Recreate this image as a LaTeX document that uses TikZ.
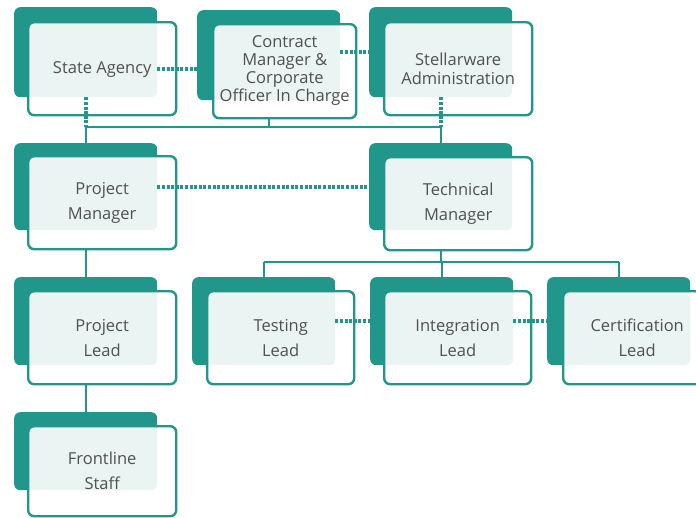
\documentclass[tikz,border=0pt]{standalone}
\usepackage{fontspec}
\setmainfont{Open Sans}
\definecolor{teal1}{HTML}{21968A}
\definecolor{txt}{HTML}{505050}
\tikzset{
  x=1pt, y=-1pt,
  backbox/.style={draw=none, fill=teal1, rounded corners=6pt, anchor=north west,
    minimum width=143pt, minimum height=90pt, inner sep=0pt},
  frontbox/.style={draw=teal1, line width=2.4pt, fill=white, fill opacity=0.9,
    rounded corners=6pt, anchor=north west, minimum width=148pt, minimum height=93pt, inner sep=0pt},
  label/.style={text=txt, align=center, inner sep=0pt, font=\fontsize{16.5}{25}\selectfont},
  link/.style={draw=teal1, line width=2.3pt},
  dotlink/.style={draw=teal1, line width=3.6pt, dash pattern=on 3pt off 1.6pt},
}
\begin{document}
\begin{tikzpicture}
\useasboundingbox (0,0) rectangle (696,517);
\clip (0,0) rectangle (696,517);

% top row
\node[backbox] (sa-b) at (14,7) {};
\node[frontbox] (sa) at (27,21) {};
\node[label] (sa-t) at ([yshift=-1pt]sa.center) {State Agency};

\node[backbox] (cm-b) at (197,10) {};
\node[frontbox, minimum width=143pt, minimum height=94pt] (cm) at (212,23) {};
\node[label, font=\fontsize{16.5}{18}\selectfont] (cm-t) at ([yshift=1pt]cm.center) {Contract\\Manager \&\\Corporate\\Officer In Charge};

\node[backbox] (sw-b) at (369,7) {};
\node[frontbox] (sw) at (383,21) {};
\node[label, font=\fontsize{16.5}{19}\selectfont] (sw-t) at (sw.center) {Stellarware\\Administration};

% second row
\node[backbox, minimum height=87pt] (pm-b) at (14,143) {};
\node[frontbox] (pm) at (27,155) {};
\node[label] (pm-t) at (pm.center) {Project\\Manager};

\node[backbox, minimum height=87pt] (tm-b) at (369,143) {};
\node[frontbox] (tm) at (383,156) {};
\node[label] (tm-t) at (tm.center) {Technical\\Manager};

% third row
\node[backbox, minimum height=88pt] (pl-b) at (14,277) {};
\node[frontbox] (pl) at (27,290) {};
\node[label] (pl-t) at (pl.center) {Project\\Lead};

\node[backbox, minimum height=88pt] (tl-b) at (192,277) {};
\node[frontbox, minimum width=147pt] (tl) at (206,290) {};
\node[label] (tl-t) at (tl.center) {Testing\\Lead};

\node[backbox, minimum height=88pt] (il-b) at (370,277) {};
\node[frontbox, minimum width=147pt] (il) at (383,290) {};
\node[label] (il-t) at (il.center) {Integration\\Lead};

\node[backbox, minimum height=88pt] (cl-b) at (547,277) {};
\node[frontbox] (cl) at (562,290) {};
\node[label] (cl-t) at (cl.center) {Certification\\Lead};

% bottom row
\node[backbox, minimum height=78pt] (fs-b) at (14,412) {};
\node[frontbox, minimum height=90pt] (fs) at (27,425) {};
\node[label] (fs-t) at (fs.center) {Frontline\\Staff};

% buses
\coordinate (bus1) at (0,127);
\coordinate (bus2) at (0,262);

% solid reporting lines
\draw[link] (sa-b.south |- bus1) -- (sw-b.south |- bus1);
\draw[link] (cm-b.south |- cm.south) -- (cm-b.south |- bus1);
\draw[link] (sa-b.south |- bus1) -- (pm-b.north);
\draw[link] (sw-b.south |- bus1) -- (tm-b.north);
\draw[link] (pm-b.south |- pm.south) -- (pl-b.north);
\draw[link] (pl-b.south |- pl.south) -- (fs-b.north);
\draw[link] (tm-b.south |- tm.south) -- (tm-b.south |- bus2);
\draw[link] (tl-b.north |- bus2) -- (cl-b.north |- bus2);
\draw[link] (tl-b.north |- bus2) -- (tl-b.north);
\draw[link] (il-b.north |- bus2) -- (il-b.north);
\draw[link] (cl-b.north |- bus2) -- (cl-b.north);

% dotted liaison lines
\draw[dotlink] (sa-b.east |- sa.center) -- (cm-b.west |- sa.center);
\draw[dotlink] (cm-b.east |- sw-b.center) -- (sw-b.west);
\draw[dotlink] (sa-b.south) -- (sa-b.south |- bus1);
\draw[dotlink] (sw-b.south) -- (sw-b.south |- bus1);
\draw[dotlink] (pm-b.east) -- (tm-b.west);
\draw[dotlink] (tl-b.east) -- (il-b.west);
\draw[dotlink] (il-b.east) -- (cl-b.west);
\end{tikzpicture}
\end{document}
